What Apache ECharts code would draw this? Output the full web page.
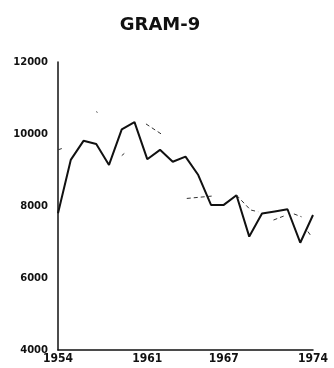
<!DOCTYPE html>
<html>
<head>
<meta charset="utf-8">
<script src="https://cdn.jsdelivr.net/npm/echarts@6/dist/echarts.min.js"></script>
<style>
  html, body { margin: 0; padding: 0; background: #fff; }
  #chart { width: 334px; height: 368px; }
</style>
</head>
<body>
<div id="chart"></div>
<script>
// Annual series, 1954-1974
const years = [1954, 1955, 1956, 1957, 1958, 1959, 1960, 1961, 1962, 1963, 1964,
               1965, 1966, 1967, 1968, 1969, 1970, 1971, 1972, 1973, 1974];
const values = [7800, 9280, 9810, 9720, 9140, 10130, 10330, 9300, 9560, 9230, 9370,
                8860, 8030, 8030, 8300, 7150, 7790, 7850, 7910, 6980, 7750];

// Dashed trend fragments (null breaks the line between fragments)
const trendYears = [1954.0, 1954.5, null, 1957.0, 1957.1, null, 1959.0, 1959.2, null,
                    1960.9, 1962.1, null, 1964.1, 1966.2, null,
                    1968.0, 1969.1, 1969.7, null, 1970.9, 1971.7, null,
                    1972.5, 1973.1, null, 1973.6, 1973.8];
const trendValues = [9560, 9620, null, 10620, 10600, null, 9400, 9460, null,
                     10280, 10000, null, 8210, 8280, null,
                     8300, 7890, 7840, null, 7610, 7720, null,
                     7780, 7700, null, 7290, 7190];

// Tick labels
const xTickLabels = [1954, 1961, 1967, 1974];
const yTicks = [4000, 6000, 8000, 10000, 12000];

const chart = echarts.init(document.getElementById('chart'));
chart.setOption({
  animation: false,
  backgroundColor: '#ffffff',
  title: {
    text: 'GRAM-9',
    left: 155,
    top: 11,
    textAlign: 'center',
    textStyle: {
      fontFamily: 'DejaVu Sans',
      fontSize: 18,
      fontWeight: 600,
      color: '#111'
    }
  },
  grid: { left: 58, right: 21, top: 62, bottom: 18 },
  xAxis: {
    type: 'value',
    min: years[0],
    max: years[years.length - 1],
    interval: 1,
    axisLine: { show: true, lineStyle: { color: '#111', width: 1.5 } },
    axisTick: { show: false },
    splitLine: { show: false },
    axisLabel: {
      margin: 3,
      fontFamily: '"Liberation Sans Narrow", "DejaVu Sans Condensed", sans-serif',
      fontWeight: 'bold',
      fontSize: 12,
      color: '#111',
      formatter: v => xTickLabels.includes(v) ? String(v) : ''
    }
  },
  yAxis: {
    type: 'value',
    min: yTicks[0],
    max: yTicks[yTicks.length - 1],
    interval: 2000,
    axisLine: { show: true, lineStyle: { color: '#111', width: 1.5 } },
    axisTick: { show: false },
    splitLine: { show: false },
    axisLabel: {
      margin: 10,
      fontFamily: 'DejaVu Sans',
      fontWeight: 'bold',
      fontSize: 10,
      color: '#111',
      formatter: v => String(v)
    }
  },
  series: [
    {
      type: 'line',
      data: years.map((y, i) => [y, values[i]]),
      showSymbol: false,
      lineStyle: { color: '#111', width: 2 }
    },
    {
      type: 'line',
      data: trendYears.map((y, i) => y === null ? [null, null] : [y, trendValues[i]]),
      connectNulls: false,
      showSymbol: false,
      lineStyle: { color: '#333', width: 1, type: [4, 3] }
    }
  ]
});
</script>
</body>
</html>
